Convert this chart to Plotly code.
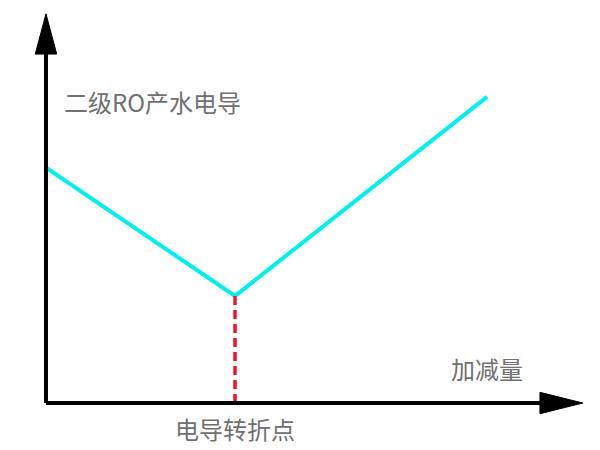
import plotly.graph_objects as go

# Conductivity vs dosage (schematic)
dose = [0, 3.0, 7.0]
conductivity = [5.5, 2.5, 7.15]
turn_x = 3.0
turn_y = 2.5

y_label = '二级RO产水电导'
x_label = '加减量'
turn_label = '电导转折点'

fig = go.Figure()

fig.add_trace(go.Scatter(
    x=dose, y=conductivity, mode='lines',
    line=dict(color='#00F0F0', width=4),
    showlegend=False, hoverinfo='skip'
))

fig.add_trace(go.Scatter(
    x=[turn_x, turn_x], y=[0, turn_y], mode='lines',
    line=dict(color='#F0142D', width=3.5, dash='9px,5px'),
    showlegend=False, hoverinfo='skip'
))

# Axes with arrow heads
fig.add_shape(type='line', x0=0, y0=0, x1=7.9, y1=0, line=dict(color='black', width=4))
fig.add_shape(type='line', x0=0, y0=0, x1=0, y1=8.2, line=dict(color='black', width=4))
fig.add_shape(type='path', path='M 7.84 -0.25 L 8.52 0 L 7.84 0.25 Z',
              fillcolor='black', line=dict(color='black', width=1))
fig.add_shape(type='path', path='M -0.17 8.15 L 0 9.09 L 0.17 8.15 Z',
              fillcolor='black', line=dict(color='black', width=1))

font = dict(family='Noto Sans CJK SC', size=24, color='#707070')
fig.add_annotation(x=0.25, y=7.05, text=y_label, showarrow=False, xanchor='left', font=font)
fig.add_annotation(x=7.0, y=0.8, text=x_label, showarrow=False, xanchor='center', font=font)
fig.add_annotation(x=turn_x, y=-0.6, text=turn_label, showarrow=False, xanchor='center', font=font)

# ranges offset to compensate the page body margin
fig.update_layout(
    width=600, height=450,
    margin=dict(l=0, r=0, t=0, b=0),
    plot_bgcolor='white', paper_bgcolor='white',
    xaxis=dict(range=[-0.603, 8.92], visible=False, fixedrange=True),
    yaxis=dict(range=[-1.284, 9.226], visible=False, fixedrange=True),
)

fig.write_html('out.html')
